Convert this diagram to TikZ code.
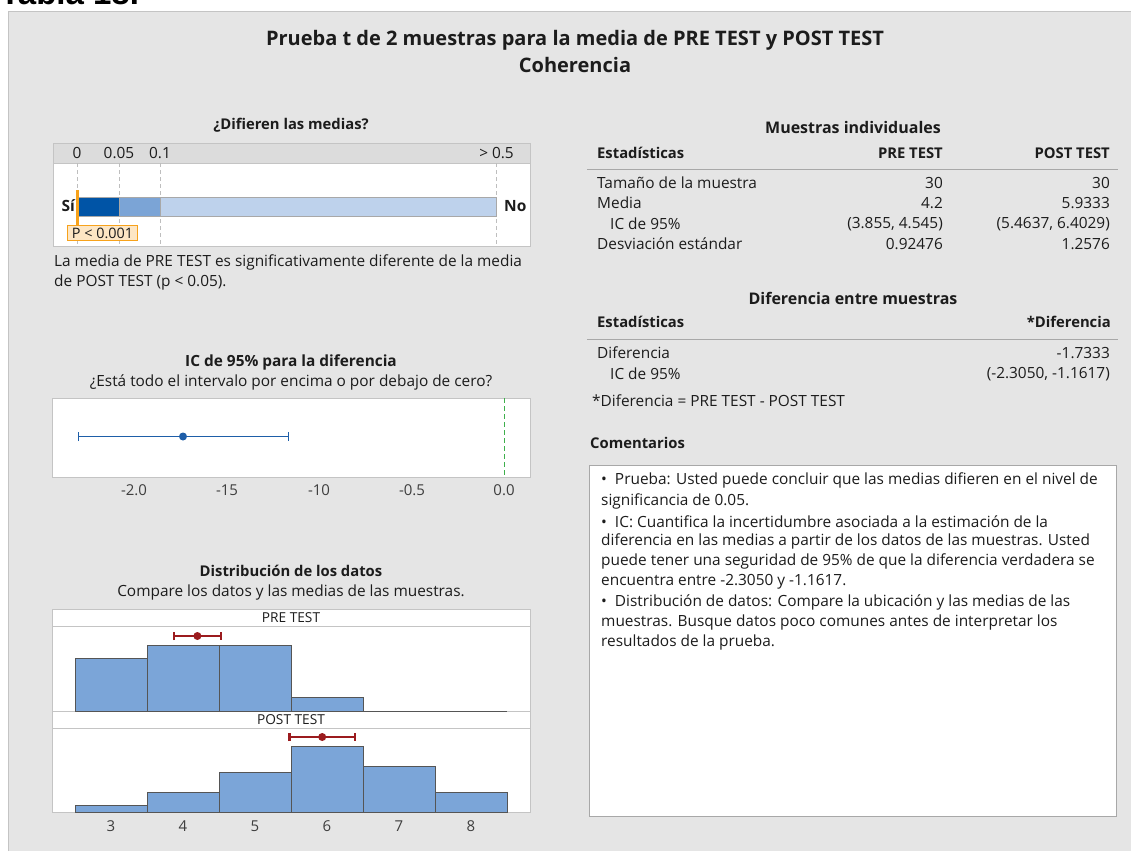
\documentclass[tikz,border=0pt]{standalone}
\usepackage{fontspec}
\setmainfont{Open Sans}
\newfontfamily\tablafont{Liberation Sans}
\usetikzlibrary{arrows.meta,positioning}

\definecolor{panelgray}{HTML}{E5E5E5}
\definecolor{framegray}{HTML}{C4C4C4}
\definecolor{stripgray}{HTML}{DCDCDC}
\definecolor{rulegray}{HTML}{A8A8A8}
\definecolor{dashgray}{HTML}{BEBEBE}
\definecolor{ink}{HTML}{1C1C1C}
\definecolor{darkblue}{HTML}{0054A6}
\definecolor{midblue}{HTML}{7BA4D6}
\definecolor{lightblue}{HTML}{BED2EC}
\definecolor{pvalorange}{HTML}{F7A21B}
\definecolor{pvalfill}{HTML}{FDE6C4}
\definecolor{ciblue}{HTML}{1E5EA8}
\definecolor{zerogreen}{HTML}{3EAF4C}
\definecolor{histblue}{HTML}{7BA5D8}
\definecolor{histedge}{HTML}{555555}
\definecolor{meanred}{HTML}{9B1B1E}

\newcommand{\bodysize}{\fontsize{15.4}{18}\selectfont}
\newcommand{\headsize}{\fontsize{14.8}{18}\selectfont}

\tikzset{
  txt/.style={inner sep=0pt, text=ink, font=\bodysize},
  txtb/.style={inner sep=0pt, text=ink, font=\headsize\bfseries},
  sect/.style={inner sep=0pt, text=ink, font=\fontsize{16}{18}\selectfont\bfseries},
  ttl/.style={inner sep=0pt, text=ink, font=\fontsize{20}{22}\selectfont\bfseries},
  striplbl/.style={inner sep=0pt, text=ink, font=\fontsize{13.7}{15}\selectfont},
  axislbl/.style={inner sep=0pt, text=ink!85, font=\fontsize{15}{17}\selectfont},
  plotbox/.style={draw=framegray, fill=white, line width=1pt},
  histbar/.style={draw=histedge, fill=histblue, line width=1pt},
  meanbar/.style={meanred, line width=2.5pt, {Bar[width=8pt]}-{Bar[width=8pt]}},
}

\begin{document}
\begin{tikzpicture}[x=1pt, y=-1pt]
\useasboundingbox (0,0) rectangle (1131,851);

% Page and grey panel
\fill[white] (0,0) rectangle (1131,851);
\fill[panelgray] (8,12) rectangle (1131,851);
\draw[framegray, line width=1pt] (8,851) -- (8,12) -- (1131,12);
\node[anchor=base west, inner sep=0pt, font=\tablafont\bfseries\fontsize{33}{33}\selectfont] (tabla) at (0,5) {Tabla 18.};

% Titles
\node[ttl] (title) at (575,40) {Prueba t de 2 muestras para la media de PRE TEST y POST TEST};
\node[ttl] (subtitle) at (575,65) {Coherencia};

% Do the means differ (p-value bar)
\node[txtb] (q1) at (291,125) {¿Difieren las medias?};
\draw[plotbox] (53,143) rectangle (530,246);
\fill[stripgray] (53.5,143.5) rectangle (529.5,163);
\draw[framegray, line width=1pt] (53,163) -- (530,163);
\foreach \x in {77,119,160,496}
  \draw[dashgray, line width=1pt, dash pattern=on 4pt off 3pt] (\x,163) -- (\x,246);
\foreach \x/\l in {77/0, 119/0.05, 160/0.1}
  \node[txt] (pt\x) at (\x,153) {\l};
\node[txt, anchor=east] (pt496) at (514,153) {> 0.5};
\fill[darkblue] (77,197) rectangle (119,216);
\fill[midblue] (119,197) rectangle (160,216);
\fill[lightblue] (160,197) rectangle (496,216);
\draw[rulegray, line width=1pt] (77,197) rectangle (496,216) (119,197) -- (119,216) (160,197) -- (160,216);
\node[txtb, font=\fontsize{15.5}{18}\selectfont\bfseries, anchor=east] (si) at (75,206) {Sí};
\node[txtb, font=\fontsize{15.5}{18}\selectfont\bfseries, anchor=west] (no) at (504,206) {No};
\draw[pvalorange, line width=3pt] (77,190) -- (77,225);
\node[txt, font=\fontsize{14.4}{16}\selectfont, draw=pvalorange, fill=pvalfill, line width=1pt,
      anchor=north west, minimum width=70, minimum height=15, inner xsep=2pt] (pval) at (67,225) {P < 0.001};
\node[txt, anchor=west] (verdict1) at (54,262) {La media de PRE TEST es significativamente diferente de la media};
\node[txt, anchor=west] (verdict2) at (54,282) {de POST TEST (p < 0.05).};

% CI for the difference
\node[txtb, font=\bodysize\bfseries] (q2) at (291,362) {IC de 95\% para la diferencia};
\node[txt] (q2sub) at (291,382) {¿Está todo el intervalo por encima o por debajo de cero?};
\draw[plotbox] (52,398) rectangle (530,477);
\draw[zerogreen, line width=1pt, dash pattern=on 5pt off 3pt] (504,398) -- (504,477);
\coordinate (cilo) at (78,436.5);
\coordinate (cihi) at (289,436.5);
\draw[ciblue, line width=1pt, {Bar[width=9pt]}-{Bar[width=9pt]}] (cilo) -- (cihi);
\node[circle, fill=ciblue, inner sep=0pt, minimum size=8] (cimean) at (183,436.5) {};
\foreach \x/\l in {134/-2.0, 227/-15, 319/-10, 412/-0.5, 504/0.0}
  \node[axislbl] (ax\x) at (\x,490) {\l};

% Data distribution
\node[txtb] (q3) at (291,571) {Distribución de los datos};
\node[txt] (q3sub) at (291,592) {Compare los datos y las medias de las muestras.};
\draw[plotbox] (52,609) rectangle (530,812);
\draw[framegray, line width=1pt] (52,626) -- (530,626) (52,711) -- (530,711) (52,728) -- (530,728);
\node[striplbl] (prelbl) at (291,618) {PRE TEST};
\node[striplbl] (postlbl) at (291,719.5) {POST TEST};

% PRE TEST histogram
\begin{scope}[shift={(-105,711)}, x=72pt, y=6.55pt]
  \draw[histedge, line width=1pt] (2.5,0) -- (8.5,0);
  \foreach \l/\n in {2.5/8, 3.5/10, 4.5/10, 5.5/2}
    \draw[histbar] (\l,0) rectangle ++(1,\n);
  \draw[meanbar] (3.855,11.45) -- (4.545,11.45);
  \node[circle, fill=meanred, inner sep=0pt, minimum size=8] (premean) at (4.2,11.45) {};
\end{scope}

% POST TEST histogram
\begin{scope}[shift={(-105,812)}, x=72pt, y=6.55pt]
  \foreach \l/\n in {2.5/1, 3.5/3, 4.5/6, 5.5/10, 6.5/7, 7.5/3}
    \draw[histbar] (\l,0) rectangle ++(1,\n);
  \draw[meanbar] (5.4637,11.45) -- (6.4029,11.45);
  \node[circle, fill=meanred, inner sep=0pt, minimum size=8] (postmean) at (5.9333,11.45) {};
\end{scope}
\foreach \v in {3,...,8}
  \node[axislbl] (tick\v) at (\v*72-105,826) {\v};

% Individual samples table
\node[sect] (indiv) at (853,127) {Muestras individuales};
\node[txtb, anchor=west] (h1) at (597,153) {Estadísticas};
\node[txtb, anchor=east] (h1pre) at (943,153) {PRE TEST};
\node[txtb, anchor=east] (h1post) at (1110,153) {POST TEST};
\draw[rulegray, line width=1pt] (587,169) -- (1118,169);
\node[txt, anchor=west] (r1) at (597,183) {Tamaño de la muestra};
\node[txt, anchor=east] (r1pre) at (943,183) {30};
\node[txt, anchor=east] (r1post) at (1110,183) {30};
\node[txt, anchor=west] (r2) at (597,203) {Media};
\node[txt, anchor=east] (r2pre) at (943,203) {4.2};
\node[txt, anchor=east] (r2post) at (1110,203) {5.9333};
\node[txt, anchor=west] (r3) at (610,224) {IC de 95\%};
\node[txt, anchor=east] (r3pre) at (943,224) {(3.855, 4.545)};
\node[txt, anchor=east] (r3post) at (1110,224) {(5.4637, 6.4029)};
\node[txt, anchor=west] (r4) at (597,244) {Desviación estándar};
\node[txt, anchor=east] (r4pre) at (943,244) {0.92476};
\node[txt, anchor=east] (r4post) at (1110,244) {1.2576};

% Difference table
\node[sect] (diff) at (853,298) {Diferencia entre muestras};
\node[txtb, anchor=west] (h2) at (597,322) {Estadísticas};
\node[txtb, anchor=east] (h2d) at (1111,322) {*Diferencia};
\draw[rulegray, line width=1pt] (587,339) -- (1118,339);
\node[txt, anchor=west] (d1) at (597,353) {Diferencia};
\node[txt, anchor=east] (d1v) at (1110,353) {-1.7333};
\node[txt, anchor=west] (d2) at (610,374) {IC de 95\%};
\node[txt, anchor=east] (d2v) at (1110,374) {(-2.3050, -1.1617)};
\node[txt, anchor=west] (foot) at (592,401) {*Diferencia = PRE TEST - POST TEST};

% Comments
\node[txtb, anchor=west] (com) at (590,443) {Comentarios};
\draw[draw=rulegray, fill=white, line width=1pt] (589,465) rectangle (1116,816);
\foreach \t [count=\i] in {%
  {•\ \ Prueba: Usted puede concluir que las medias difieren en el nivel de},
  {significancia de 0.05.},
  {•\ \ IC: Cuantifica la incertidumbre asociada a la estimación de la},
  {diferencia en las medias a partir de los datos de las muestras. Usted},
  {puede tener una seguridad de 95\% de que la diferencia verdadera se},
  {encuentra entre -2.3050 y -1.1617.},
  {•\ \ Distribución de datos: Compare la ubicación y las medias de las},
  {muestras. Busque datos poco comunes antes de interpretar los},
  {resultados de la prueba.}}
  \node[txt, anchor=west] (com\i) at (601,460.7+20.25*\i) {\t};
\end{tikzpicture}
\end{document}
